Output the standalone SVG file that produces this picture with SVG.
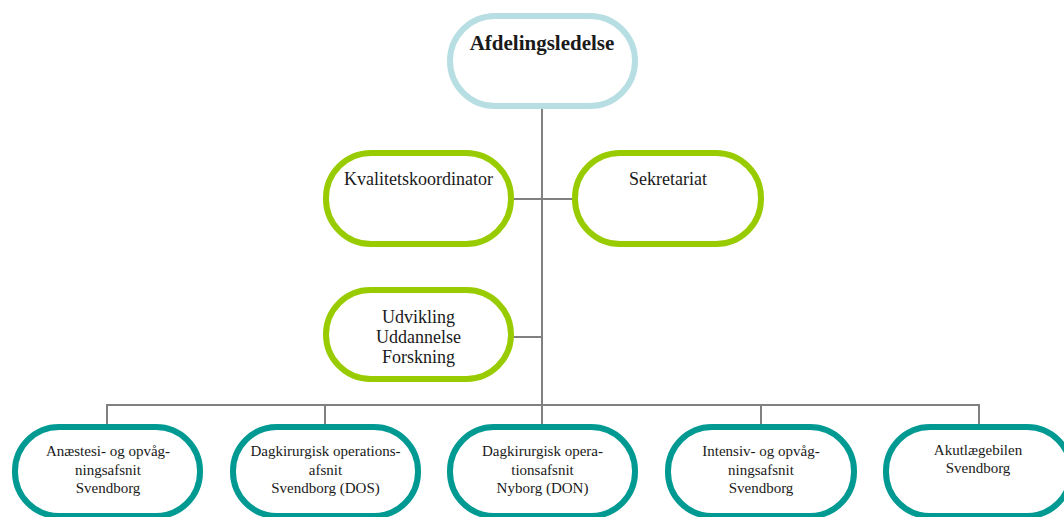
<svg xmlns="http://www.w3.org/2000/svg" width="1064" height="517" viewBox="0 0 1064 517">
<style>
.n{fill:#fff;stroke-width:6}
.top{stroke:#b7dfe3}
.g{stroke:#99cc00}
.t{stroke:#009a93}
.c{stroke:#808080;stroke-width:2;fill:none}
text{fill:#1a1a1a;text-anchor:middle}
.s18{font-size:18px}
.s15{font-size:15px}
</style>
<rect width="1064" height="517" fill="#fff"/>
<g id="connectors">
<path class="c" d="M542 106V405M511 199H575M511 337H542M107 425V405H979V425M325 405V425M542 405V425M761 405V425"/>
</g>
<g font-family="'Liberation Serif', 'DejaVu Serif', serif">
<g id="afdelingsledelse">
<rect class="n top" x="450" y="16" width="185" height="90" rx="45"/>
<text x="542" y="50" font-size="21" font-weight="bold">Afdelingsledelse</text>
</g>
<g id="kvalitetskoordinator">
<rect class="n g" x="326" y="153" width="185" height="91" rx="45"/>
<text class="s18" x="418.5" y="185">Kvalitetskoordinator</text>
</g>
<g id="sekretariat">
<rect class="n g" x="575" y="153" width="186" height="91" rx="45"/>
<text class="s18" x="668" y="185">Sekretariat</text>
</g>
<g id="udvikling">
<rect class="n g" x="326" y="290" width="185" height="89" rx="44.5"/>
<text class="s18" x="418.5" y="323">Udvikling</text>
<text class="s18" x="418.5" y="343">Uddannelse</text>
<text class="s18" x="418.5" y="363">Forskning</text>
</g>
<g id="anaestesi">
<rect class="n t" x="15" y="427" width="185" height="89" rx="44"/>
<text class="s15" x="108" y="456">Anæstesi- og opvåg-</text>
<text class="s15" x="108" y="475">ningsafsnit</text>
<text class="s15" x="108" y="493">Svendborg</text>
</g>
<g id="dos">
<rect class="n t" x="233" y="427" width="185" height="89" rx="44"/>
<text class="s15" x="325.5" y="456">Dagkirurgisk operations-</text>
<text class="s15" x="325.5" y="475">afsnit</text>
<text class="s15" x="325.5" y="493">Svendborg (DOS)</text>
</g>
<g id="don">
<rect class="n t" x="450" y="427" width="185" height="89" rx="44"/>
<text class="s15" x="542.5" y="456">Dagkirurgisk opera-</text>
<text class="s15" x="542.5" y="475">tionsafsnit</text>
<text class="s15" x="542.5" y="493">Nyborg (DON)</text>
</g>
<g id="intensiv">
<rect class="n t" x="668" y="427" width="186" height="89" rx="44"/>
<text class="s15" x="761" y="456">Intensiv- og opvåg-</text>
<text class="s15" x="761" y="475">ningsafsnit</text>
<text class="s15" x="761" y="493">Svendborg</text>
</g>
<g id="akutlaegebilen">
<rect class="n t" x="886" y="427" width="185" height="89" rx="44"/>
<text class="s15" x="978" y="455">Akutlægebilen</text>
<text class="s15" x="978" y="473">Svendborg</text>
</g>
</g>
</svg>
